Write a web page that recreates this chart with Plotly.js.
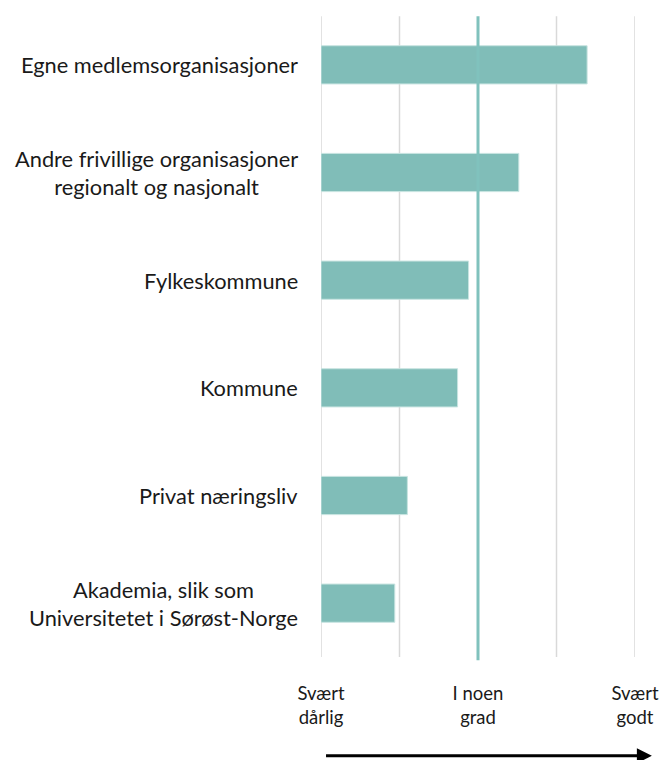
<!DOCTYPE html>
<html>
<head>
<meta charset="utf-8">
<script src="https://cdn.plot.ly/plotly-3.0.1.min.js"></script>
<style>html,body{margin:0;padding:0;background:#fff;}#chart{width:665px;height:760px;}</style>
</head>
<body>
<div id="chart"></div>
<script>
const categories = [
  "Egne medlemsorganisasjoner",
  "Andre frivillige organisasjoner<br>regionalt og nasjonalt",
  "Fylkeskommune",
  "Kommune",
  "Privat næringsliv",
  "Akademia, slik som<br>Universitetet i Sørøst-Norge"
];
const values = [4.39, 3.52, 2.88, 2.74, 2.10, 1.94];
const tickVals = [1, 2, 3, 4, 5];
const tickText = ["Svært<br>dårlig", "", "I noen<br>grad", "", "Svært<br>godt"];

const font = "Lato, 'Open Sans', sans-serif";
const barColor = "rgb(128,189,184)";
const gridColor = "#d9d9d9";

const trace = {
  type: "bar",
  orientation: "h",
  x: values.map(v => v - 1),
  y: categories,
  base: 1,
  width: 0.355,
  marker: {color: barColor, line: {color: "rgba(200,228,225,1)", width: 1}},
  hoverinfo: "none"
};

const annotations = categories.map(c => ({
  xref: "paper", yref: "y", x: -0.068, y: c,
  text: c, showarrow: false, xanchor: "right", yanchor: "middle", align: "center",
  font: {family: font, size: 21.8, color: "#1a1a1a"}
}));
annotations.push({
  xref: "x", yref: "paper", x: 5.215, y: -0.153,
  axref: "x", ax: 1.045, ayref: "pixel", ay: 0,
  showarrow: true, arrowhead: 2, arrowsize: 1, arrowwidth: 3, arrowcolor: "#000",
  text: ""
});

const gridTop = 0.992;
const shapes = tickVals.filter(v => v !== 3).map(v => ({
  type: "line", xref: "x", yref: "paper", x0: v, x1: v, y0: 0, y1: gridTop,
  line: {color: gridColor, width: 1.5}, layer: "below"
}));
shapes.push({type: "line", xref: "x", yref: "paper", x0: 3, x1: 3, y0: -0.005, y1: gridTop,
  line: {color: "rgb(128,194,189)", width: 3}, layer: "above"});

const layout = {
  width: 665, height: 760,
  margin: {l: 321, r: 30, t: 11, b: 103},
  paper_bgcolor: "#fff", plot_bgcolor: "#fff",
  showlegend: false,
  xaxis: {
    range: [1, 5], tickvals: tickVals, ticktext: tickText,
    showgrid: false, zeroline: false, showline: false, ticks: "",
    ticklabelstandoff: 23,
    tickfont: {family: font, size: 18.5, color: "#1a1a1a"},
    fixedrange: true
  },
  yaxis: {
    type: "category", categoryorder: "array", categoryarray: categories,
    autorange: "reversed", showticklabels: false, showgrid: false,
    zeroline: false, showline: false, ticks: "", fixedrange: true
  },
  shapes: shapes,
  annotations: annotations
};

Plotly.newPlot("chart", [trace], layout, {displayModeBar: false, staticPlot: true});
</script>
</body>
</html>
